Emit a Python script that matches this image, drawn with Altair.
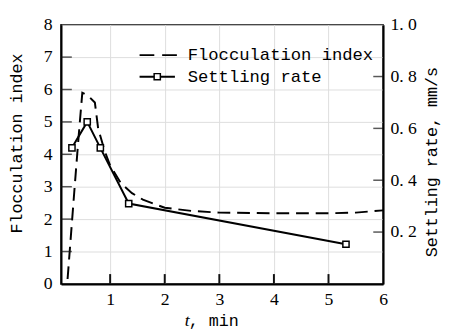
import altair as alt
import pandas as pd

# Flocculation index (dashed curve)
t_floc = [0.22, 0.35, 0.42, 0.49, 0.6, 0.72, 0.78, 0.9, 1.0, 1.2, 1.4, 1.6, 2.0, 2.5, 3.0, 4.0, 5.0, 5.5, 6.0]
floc_index = [0.15, 3.0, 4.5, 5.9, 5.8, 5.6, 4.8, 4.1, 3.65, 3.1, 2.8, 2.6, 2.35, 2.25, 2.2, 2.18, 2.18, 2.2, 2.27]

# Settling rate (solid line with squares), mm/s
t_settle = [0.3, 0.58, 0.82, 1.34, 5.32]
settling_rate = [0.525, 0.625, 0.525, 0.31, 0.153]

x_tick_values = [1, 2, 3, 4, 5]
x_label_values = [1, 2, 3, 4, 5, 6]
left_tick_values = [1, 2, 3, 4, 5, 6, 7]
left_label_values = [0, 1, 2, 3, 4, 5, 6, 7, 8]
right_tick_values = [0.2, 0.4, 0.6, 0.8]
right_label_values = [0.2, 0.4, 0.6, 0.8, 1.0]

legend_labels = ["Flocculation index", "Settling rate"]
left_title = ["Flocculation index"]
right_title = ["Settling rate, mm/s"]
x_title_italic = ["t"]
x_title_rest = [", min"]

W, H = 328, 264
LAB_FONT = "Liberation Serif"
TXT_FONT = "Liberation Mono"

xs = alt.Scale(domain=[0.1, 6], nice=False, zero=False)
yl = alt.Scale(domain=[0, 8], nice=False)
yr = alt.Scale(domain=[0, 1], nice=False)

floc_df = pd.DataFrame({"t": t_floc, "v": floc_index})
settle_df = pd.DataFrame({"t": t_settle, "v": settling_rate})

common = dict(title=None, ticks=False, labelFont=LAB_FONT, labelFontSize=18,
              labelColor="black", domainColor="black", domainWidth=2)

x_axis = alt.Axis(values=x_label_values, orient="bottom", labelPadding=7, labelFlush=False, **common)
yl_axis = alt.Axis(values=left_label_values, orient="left", labelPadding=9, **common)
yr_axis = alt.Axis(values=right_label_values, orient="right", labelPadding=7,
                   labelExpr="replace(format(datum.value, '.1f'), '.', '. ')", **common)

floc = alt.Chart(floc_df).mark_line(color="black", strokeWidth=2, strokeDash=[13, 7]).encode(
    x=alt.X("t:Q", scale=xs, axis=x_axis),
    y=alt.Y("v:Q", scale=yl, axis=yl_axis),
)
settle_line = alt.Chart(settle_df).mark_line(color="black", strokeWidth=2).encode(
    x=alt.X("t:Q", scale=xs, axis=x_axis),
    y=alt.Y("v:Q", scale=yr, axis=yr_axis),
)
settle_pts = alt.Chart(settle_df).mark_point(
    shape="square", filled=True, fill="white", stroke="black", strokeWidth=1.5, size=40, opacity=1
).encode(
    x=alt.X("t:Q", scale=xs, axis=x_axis),
    y=alt.Y("v:Q", scale=yr, axis=None),
)

# legend
leg_dash = alt.Chart(pd.DataFrame({"k": [0]})).mark_rule(color="black", strokeWidth=2, strokeDash=[15, 8]).encode(
    x=alt.value(80), x2=alt.value(118), y=alt.value(31)
)
leg_line = alt.Chart(pd.DataFrame({"k": [1]})).mark_rule(color="black", strokeWidth=2).encode(
    x=alt.value(80), x2=alt.value(116), y=alt.value(53)
)
leg_sq = alt.Chart(pd.DataFrame({"k": [2]})).mark_point(
    shape="square", filled=True, fill="white", stroke="black", strokeWidth=1.5, size=40, opacity=1
).encode(x=alt.value(98), y=alt.value(53))
leg_t1 = alt.Chart(pd.DataFrame({"s": [legend_labels[0]]})).mark_text(
    font=TXT_FONT, fontSize=17.5, align="left", baseline="middle", color="black"
).encode(text="s:N", x=alt.value(129), y=alt.value(31))
leg_t2 = alt.Chart(pd.DataFrame({"s": [legend_labels[1]]})).mark_text(
    font=TXT_FONT, fontSize=17.5, align="left", baseline="middle", color="black"
).encode(text="s:N", x=alt.value(129), y=alt.value(53))

# axis titles
lt_title = alt.Chart(pd.DataFrame({"s": left_title})).mark_text(
    font=TXT_FONT, fontSize=17, angle=270, align="center", baseline="middle", color="black"
).encode(text="s:N", x=alt.value(-45), y=alt.value(121))
rt_title = alt.Chart(pd.DataFrame({"s": right_title})).mark_text(
    font=TXT_FONT, fontSize=17, angle=270, align="center", baseline="middle", color="black"
).encode(text="s:N", x=alt.value(378), y=alt.value(140))
xt_t = alt.Chart(pd.DataFrame({"s": x_title_italic})).mark_text(
    font=LAB_FONT, fontSize=18, fontStyle="italic", align="right", baseline="middle", color="black"
).encode(text="s:N", x=alt.value(131), y=alt.value(302))
xt_rest = alt.Chart(pd.DataFrame({"s": x_title_rest})).mark_text(
    font=TXT_FONT, fontSize=17, align="left", baseline="middle", color="black"
).encode(text="s:N", x=alt.value(130), y=alt.value(302))

# inward ticks (placed through the same scales)
xt = alt.Chart(pd.DataFrame({"t": x_tick_values})).mark_rule(color="#111111", strokeWidth=2).encode(
    x=alt.X("t:Q", scale=xs, axis=x_axis), y=alt.value(H), y2=alt.value(H - 10)
)
lt = alt.Chart(pd.DataFrame({"v": left_tick_values})).mark_tick(
    color="#111111", orient="horizontal", size=11, thickness=1.5
).encode(y=alt.Y("v:Q", scale=yl, axis=None), x=alt.value(5.5))
rt = alt.Chart(pd.DataFrame({"v": right_tick_values})).mark_tick(
    color="#111111", orient="horizontal", size=10, thickness=1.5
).encode(y=alt.Y("v:Q", scale=yr, axis=None), x=alt.value(W - 5))

chart = alt.layer(
    floc, settle_line, settle_pts, xt, lt, rt,
    leg_dash, leg_line, leg_sq, leg_t1, leg_t2,
    lt_title, rt_title, xt_t, xt_rest,
).resolve_scale(y="independent").properties(
    width=W, height=H,
    autosize=alt.AutoSizeParams(type="none"),
    padding={"left": 54, "top": 14, "right": 60, "bottom": 47},
).configure_view(
    stroke="black", strokeWidth=1.5
)

chart.save("out.html", embed_options={"renderer": "svg", "actions": False})
